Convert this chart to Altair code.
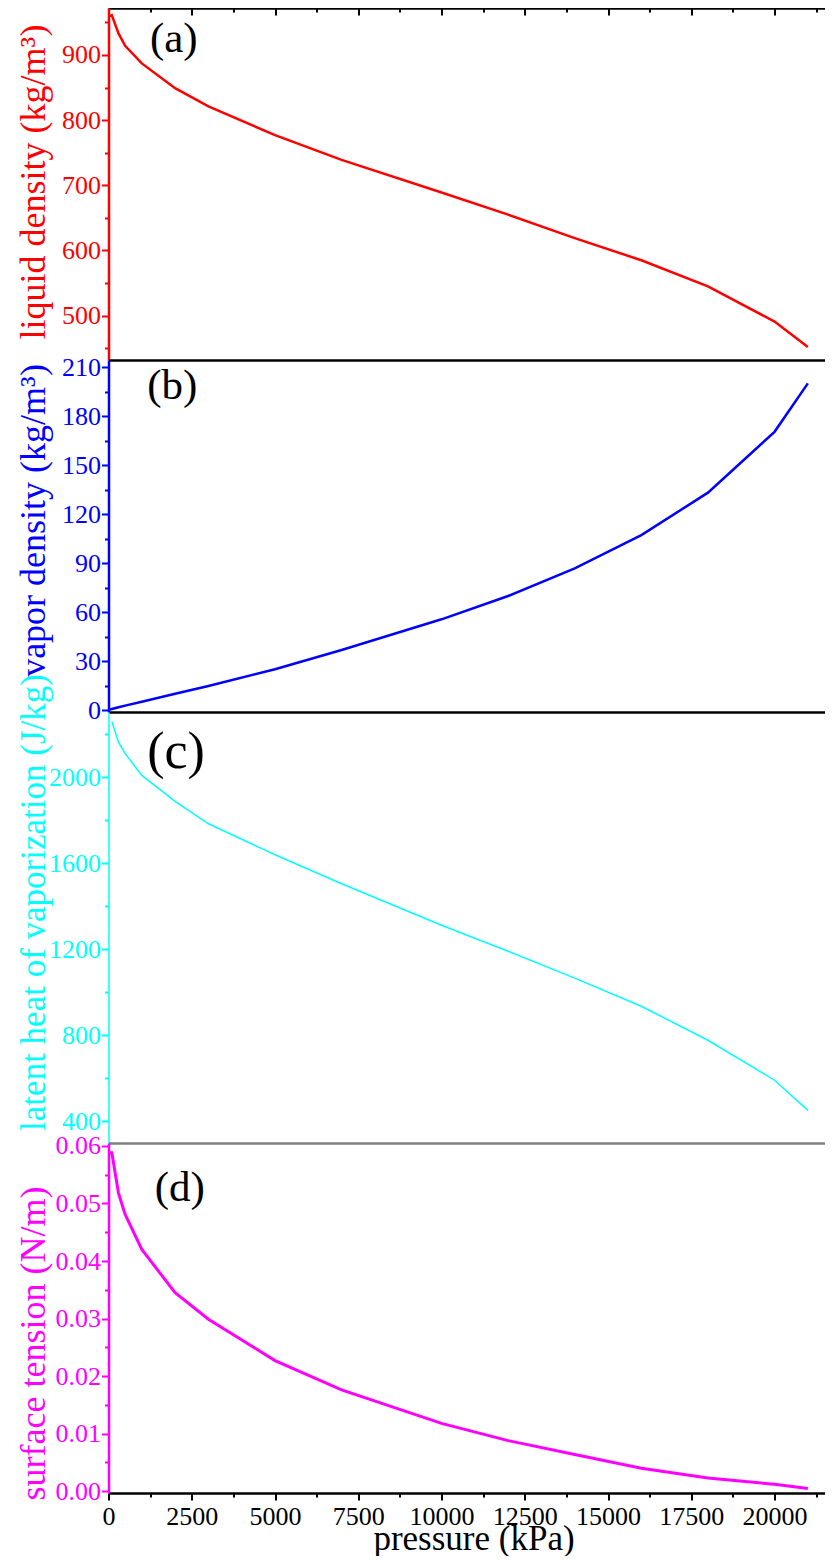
import altair as alt
import pandas as pd

# ---------------- data ----------------
pressure = [10, 100, 300, 500, 1000, 2000, 3000, 5000, 7000, 10000, 12000,
            14000, 16000, 18000, 20000, 21000]
liquid_density = [959, 961, 933, 914, 887, 849, 821, 777, 739, 689, 655,
                  619, 585, 545, 491, 452]
vapor_density = [0.1, 0.6, 1.7, 2.7, 5.1, 10.0, 14.7, 25.0, 36.8, 55.6, 69.9,
                 86.8, 107.2, 133.2, 170.5, 200.2]
latent_heat = [None, 2260, 2164, 2110, 2009, 1888, 1784, 1640, 1505, 1312, 1191,
               1066, 935, 777, 591, 451]
surface_tension = [0.0588, 0.0588, 0.0518, 0.0481, 0.0420, 0.0345, 0.0299, 0.0227,
                   0.0176, 0.0118, 0.0088, 0.0064, 0.0040, 0.0023, 0.0012, 0.0005]

panel_labels = ["(a)", "(b)", "(c)", "(d)"]
panel_label_x = [1245, 1160, 1160, 1390]
panel_label_y = [904, 190.6, 2043, 0.0504]
panel_label_size = [43, 43, 52, 43]

y_titles = ["liquid density (kg/m³)", "vapor density (kg/m³)",
            "latent heat of vaporization (J/kg)", "surface tension (N/m)"]
x_title = "pressure (kPa)"

x_ticks = list(range(0, 21251, 1250))
x_major = list(range(0, 21251, 2500))
x_minor = list(range(1250, 21251, 2500))
y_ticks = [
    list(range(450, 951, 50)),
    list(range(0, 211, 15)),
    list(range(400, 2201, 200)),
    [round(0.005 * i, 3) for i in range(13)],
]

# ---------------- style ----------------
FONT = "Liberation Serif"
W = 716
X_DOMAIN = [0, 21500]
heights = [352, 352, 431, 350]
y_domains = [[432, 972], [-1.2, 214.5], [299, 2304], [-0.0003, 0.0605]]
colors = ["#FF0000", "#0000FF", "#00FFFF", "#FF00FF"]
line_widths = [2.5, 2.5, 1.5, 3]
axis_widths = [2.5, 2.5, 1.5, 2.5]
title_y = [173.5, 160, 190, 200]
title_sizes = [36, 36, 35, 36]
major_tests = [
    "datum.value % 100 === 0",
    "datum.value % 30 === 0",
    "datum.value % 400 === 0",
    "abs(datum.value * 100 - round(datum.value * 100)) < 1e-6",
]
label_fmts = [
    "format(datum.value, 'd')",
    "format(datum.value, 'd')",
    "format(datum.value, 'd')",
    "format(datum.value, '.2f')",
]
top_line_colors = ["black", "black", "black", "#808080"]

df = pd.DataFrame({"p": pressure, "v0": liquid_density, "v1": vapor_density,
                   "v2": latent_heat, "v3": surface_tension})

xscale = alt.Scale(domain=X_DOMAIN, nice=False, zero=False)


def y_axis(i):
    return alt.Axis(
        orient="left", values=y_ticks[i], grid=False,
        title=y_titles[i], titleX=-64.5, titleY=title_y[i], titleAngle=-90,
        titleAlign="center", titleBaseline="alphabetic", titleFont=FONT,
        titleFontSize=title_sizes[i], titleFontWeight="normal", titleColor=colors[i],
        labelFont=FONT, labelFontSize=26, labelColor=colors[i], labelPadding=1,
        labelOverlap=False, labelFlush=False,
        labelExpr=f"{major_tests[i]} ? {label_fmts[i]} : ''",
        tickColor=colors[i], tickWidth=2,
        tickSize={"condition": {"test": major_tests[i], "value": 7}, "value": 4},
        domainColor=colors[i], domainWidth=axis_widths[i],
    )


def top_border_axis(i):
    return alt.Axis(orient="top", ticks=False, labels=False, title=None,
                    grid=False, domainColor=top_line_colors[i], domainWidth=2.5)


def panel(i):
    col = f"v{i}"
    ysc = alt.Scale(domain=y_domains[i], nice=False, zero=False)
    if i == 3:
        line_x_axis = alt.Axis(
            orient="bottom", values=x_ticks, grid=False,
            domainColor="black", domainWidth=2.5,
            tickColor="black", tickWidth=2,
            tickSize={"condition": {"test": "datum.value % 2500 === 0", "value": 7}, "value": 4},
            labelExpr="datum.value % 2500 === 0 ? format(datum.value, 'd') : ''",
            labelFont=FONT, labelFontSize=26, labelColor="black", labelPadding=3,
            labelOverlap=False, labelFlush=False,
            title=x_title, titleFont=FONT, titleFontSize=35, titleFontWeight="normal",
            titleColor="black", titleBaseline="alphabetic", titleAlign="center",
            titleY=56, titleX=365,
        )
    else:
        line_x_axis = top_border_axis(i)

    line = alt.Chart(df).mark_line(color=colors[i], strokeWidth=line_widths[i]).encode(
        x=alt.X("p:Q", scale=xscale, axis=line_x_axis),
        y=alt.Y(f"{col}:Q", scale=ysc, axis=y_axis(i)),
    )

    lab_df = pd.DataFrame({"x": [panel_label_x[i]], "y": [panel_label_y[i]],
                           "t": [panel_labels[i]]})
    if i == 0:
        text_x_axis = alt.Axis(orient="top", offset=-7, values=x_major, tickSize=7,
                               tickWidth=2, tickColor="black", domain=False,
                               labels=False, title=None, grid=False)
    elif i == 3:
        text_x_axis = top_border_axis(i)
    else:
        text_x_axis = None
    label = alt.Chart(lab_df).mark_text(
        align="left", baseline="alphabetic", font=FONT,
        fontSize=panel_label_size[i], color="black",
    ).encode(
        x=alt.X("x:Q", scale=xscale, axis=text_x_axis),
        y=alt.Y("y:Q", scale=ysc, axis=None),
        text="t:N",
    )
    layers = [line, label]
    if i == 0:
        minor = alt.Chart(df).mark_point(opacity=0, size=1).encode(
            x=alt.X("p:Q", scale=xscale,
                    axis=alt.Axis(orient="top", offset=-4, values=x_minor, tickSize=4,
                                  tickWidth=2, tickColor="black", domain=False,
                                  labels=False, title=None, grid=False)),
            y=alt.Y(f"{col}:Q", scale=ysc, axis=None),
        )
        layers.append(minor)
    return alt.layer(*layers).resolve_axis(x="independent", y="independent").properties(
        width=W, height=heights[i])


chart = alt.vconcat(*[panel(i) for i in range(4)], spacing=0, bounds="flush").properties(
    padding={"left": 6.5, "top": -1, "right": 0, "bottom": 0},
    background="white",
).configure_view(stroke=None)

chart.save("out.html", embed_options={"renderer": "svg", "actions": False})
